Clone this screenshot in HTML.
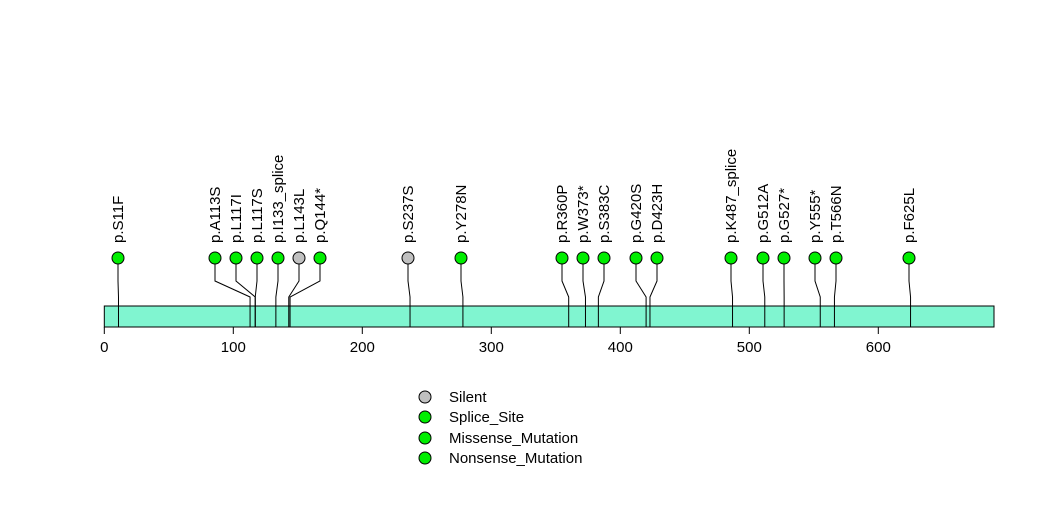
<!DOCTYPE html><html><head><style>body{margin:0;background:#fff}svg{display:block}text{font-family:"Liberation Sans",sans-serif;font-size:15px;fill:#000}</style></head><body>
<svg width="1047" height="524" viewBox="0 0 1047 524">
<rect x="104.3" y="306" width="889.7" height="21" fill="#80f5d0" stroke="#000" stroke-width="1"/>
<g stroke="#000" stroke-width="1" fill="none" id="l"></g>
<g id="c"></g>
<g stroke="#000"><line x1="104.3" y1="327" x2="878.3" y2="327"/></g>
<g id="t"></g>
<g>
<circle cx="425" cy="397" r="6" fill="#c0c0c0" stroke="#000"/><text x="449" y="402">Silent</text>
<circle cx="425" cy="417" r="6" fill="#00ee00" stroke="#000"/><text x="449" y="422">Splice_Site</text>
<circle cx="425" cy="438" r="6" fill="#00ee00" stroke="#000"/><text x="449" y="443">Missense_Mutation</text>
<circle cx="425" cy="458" r="6" fill="#00ee00" stroke="#000"/><text x="449" y="463">Nonsense_Mutation</text>
</g>
</svg>
<script>
var d=[["p.S11F",118,11,0],["p.A113S",215,113,0],["p.L117I",236,117,0],["p.L117S",257,117,0],["p.I133_splice",278,133,0],["p.L143L",299,143,1],["p.Q144*",320,144,0],["p.S237S",408,237,1],["p.Y278N",461,278,0],["p.R360P",562,360,0],["p.W373*",583,373,0],["p.S383C",604,383,0],["p.G420S",636,420,0],["p.D423H",657,423,0],["p.K487_splice",731,487,0],["p.G512A",763,512,0],["p.G527*",784,527,0],["p.Y555*",815,555,0],["p.T566N",836,566,0],["p.F625L",909,625,0]];
var ns="http://www.w3.org/2000/svg",L=document.getElementById("l"),C=document.getElementById("c"),T=document.getElementById("t");
function el(p,t,a,tx){var e=document.createElementNS(ns,t);for(var k in a)e.setAttribute(k,a[k]);if(tx)e.textContent=tx;p.appendChild(e);return e;}
d.forEach(function(m){var bx=104.3+m[2]*1.29;
el(L,"polyline",{points:m[1]+",258 "+m[1]+",281 "+bx+",297 "+bx+",327"});
el(C,"circle",{cx:m[1],cy:258,r:6,fill:m[3]?"#c0c0c0":"#00ee00",stroke:"#000"});
el(C,"text",{transform:"translate("+(m[1]+5)+",243) rotate(-90)"},m[0]);});
for(var i=0;i<=6;i++){var x=104.3+i*129;el(T,"line",{x1:x,y1:327,x2:x,y2:334,stroke:"#000"});el(T,"text",{x:x,y:352,"text-anchor":"middle"},String(i*100));}
</script>
</body></html>
